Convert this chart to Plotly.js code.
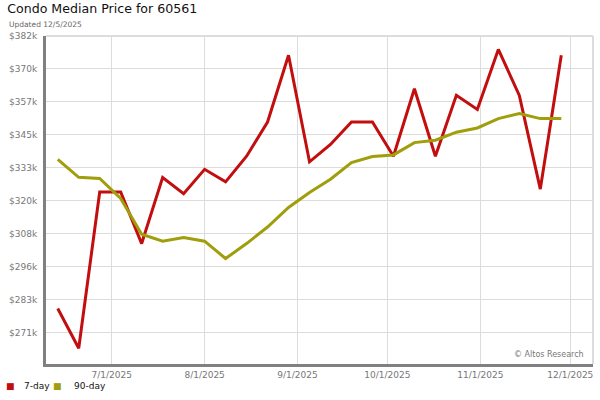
<!DOCTYPE html>
<html>
<head>
<meta charset="utf-8">
<script src="https://cdn.plot.ly/plotly-3.0.1.min.js"></script>
<style>html,body{margin:0;padding:0;background:#fff;}#chart{width:600px;height:400px;}</style>
</head>
<body>
<div id="chart"></div>
<script>
const weekDates = [
  '2025-06-13','2025-06-20','2025-06-27','2025-07-04','2025-07-11','2025-07-18','2025-07-25',
  '2025-08-01','2025-08-08','2025-08-15','2025-08-22','2025-08-29','2025-09-05','2025-09-12',
  '2025-09-19','2025-09-26','2025-10-03','2025-10-10','2025-10-17','2025-10-24','2025-10-31',
  '2025-11-07','2025-11-14','2025-11-21','2025-11-28'
];
const median7day = [
  280000, 265100, 323600, 323600, 304300, 329000, 323000, 332100, 327400, 337000, 349800, 374800,
  334900, 341400, 349800, 349800, 337000, 362300, 337000, 359800, 354500, 377000, 359800, 324700, 374800
];
const median90day = [
  335800, 329100, 328700, 321200, 307800, 305200, 306600, 305200, 298700, 304300, 310500, 317800,
  323400, 328400, 334600, 336900, 337500, 342100, 343000, 346000, 347600, 351100, 353000, 351100, 351100
];
const yTickVals = [271033, 283366, 295699, 308032, 320365, 332698, 345031, 357364, 369697, 382030];
const yTickText = ['$271k','$283k','$296k','$308k','$320k','$333k','$345k','$357k','$370k','$382k'];
const seriesNames = ['7-day', '90-day'];
const seriesColors = ['#c20e0e', '#a09e0c'];

const traces = [
  {x: weekDates, y: median7day, name: seriesNames[0], mode: 'lines', line: {color: seriesColors[0], width: 3}, hoverinfo: 'skip'},
  {x: weekDates, y: median90day, name: seriesNames[1], mode: 'lines', line: {color: seriesColors[1], width: 3}, hoverinfo: 'skip'}
];

// legend drawn as annotations (square swatch + label), laid out in paper coords
const legendSwatchX = [-0.0649, 0.0210];
const legendLabelX = [-0.0439, 0.0475];
const legendAnns = [];
seriesNames.forEach((n, i) => {
  legendAnns.push({text: '■', xref: 'paper', yref: 'paper', x: legendSwatchX[i], y: -0.067, xanchor: 'center', yanchor: 'middle',
                   showarrow: false, font: {size: 9, color: seriesColors[i]}});
  legendAnns.push({text: n, xref: 'paper', yref: 'paper', x: legendLabelX[i], y: -0.067, xanchor: 'left', yanchor: 'middle',
                   showarrow: false, font: {size: 9, color: '#111'}});
});

const layout = {
  width: 600, height: 400,
  margin: {l: 46, r: 7, t: 36, b: 36, pad: 0, autoexpand: false},
  paper_bgcolor: '#ffffff', plot_bgcolor: '#ffffff',
  font: {family: 'DejaVu Sans, Verdana, sans-serif', size: 9, color: '#777'},
  title: {text: 'Condo Median Price for 60561', x: 0.012, xanchor: 'left', xref: 'container', y: 0.99, yanchor: 'top', yref: 'container',
          font: {family: 'DejaVu Sans, Verdana, sans-serif', size: 12.6, color: '#111'}},
  xaxis: {
    type: 'date', range: ['2025-06-09 02:00', '2025-12-08 14:00'],
    tickmode: 'linear', tick0: '2025-07-01', dtick: 'M1', tickformat: '%-m/%-d/%Y',
    showgrid: true, gridcolor: '#dcdcdc', gridwidth: 1,
    showline: true, linecolor: '#808080', linewidth: 3,
    ticks: '', ticklen: 0, zeroline: false, fixedrange: true, automargin: false,
    tickfont: {size: 9, color: '#777'}
  },
  yaxis: {
    range: [259200, 382030],
    tickmode: 'array', tickvals: yTickVals, ticktext: yTickText,
    showgrid: true, gridcolor: '#dcdcdc', gridwidth: 1,
    showline: true, linecolor: '#808080', linewidth: 3,
    ticks: '', zeroline: false, fixedrange: true, ticklabelstandoff: 4, automargin: false,
    tickfont: {size: 9, color: '#777'}
  },
  shapes: [
    {type: 'line', xref: 'paper', yref: 'paper', x0: 1, x1: 1, y0: 0, y1: 1, line: {color: '#dcdcdc', width: 2}},
    {type: 'line', xref: 'paper', yref: 'paper', x0: 0, x1: 1, y0: 1, y1: 1, line: {color: '#dcdcdc', width: 2}}
  ],
  annotations: [
    {text: 'Updated 12/5/2025', xref: 'paper', yref: 'paper', x: -0.072, y: 1.034, xanchor: 'left', yanchor: 'middle', showarrow: false,
     font: {size: 7.5, color: '#666'}},
    {text: '© Altos Research', xref: 'paper', yref: 'paper', x: 0.988, y: 0.03, xanchor: 'right', yanchor: 'middle', showarrow: false,
     font: {size: 8, color: '#777'}}
  ].concat(legendAnns),
  showlegend: false
};

Plotly.newPlot('chart', traces, layout, {displayModeBar: false, staticPlot: true});
</script>
</body>
</html>
